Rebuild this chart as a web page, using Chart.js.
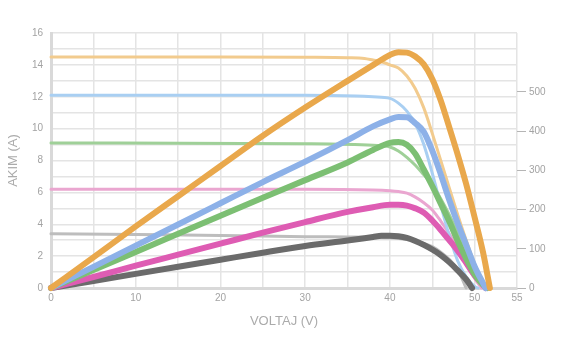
<!DOCTYPE html>
<html><head><meta charset="utf-8">
<script src="https://cdn.jsdelivr.net/npm/chart.js@4/dist/chart.umd.min.js"></script>
<style>html,body{margin:0;padding:0;background:#fff}canvas{display:block}</style>
</head><body><canvas id="c" width="564" height="361"></canvas>
<script>
// Tick labels
const xTickLabels = [0, 10, 20, 30, 40, 50, 55];
const leftTickLabels = [0, 2, 4, 6, 8, 10, 12, 14, 16];
const rightTickLabels = [0, 100, 200, 300, 400, 500];

// Current (I-V) curves, thin lines: voltage (V) and current (A)
const orangeIV_V = [0, 10, 20, 30, 35, 37, 38, 39, 40, 41, 42, 43, 44, 45, 46, 47, 48, 49, 50, 51, 51.4];
const orangeIV_I = [14.5, 14.5, 14.5, 14.48, 14.45, 14.4, 14.3, 14.2, 14.0, 13.8, 13.3, 12.5, 11.3, 9.7, 8.0, 6.3, 4.6, 3.0, 1.5, 0.4, 0];
const blueIV_V = [0, 30, 36, 38, 40, 41, 42, 43, 44, 45, 46, 47, 48, 49, 50, 50.4];
const blueIV_I = [12.1, 12.1, 12.05, 12.0, 11.9, 11.6, 11.1, 10.3, 9.0, 7.2, 5.2, 3.3, 1.7, 0.7, 0.1, 0];
const greenIV_V = [0, 30, 38, 40, 41, 42, 43, 44, 45, 46, 47, 48, 49, 50, 51, 51.2];
const greenIV_I = [9.1, 9.05, 8.95, 8.85, 8.6, 8.2, 7.7, 7.1, 6.5, 5.6, 4.6, 3.5, 2.3, 1.1, 0.2, 0];
const pinkIV_V = [0, 30, 38, 40, 41, 42, 43, 44, 45, 46, 47, 48, 49, 50, 50.8];
const pinkIV_I = [6.2, 6.2, 6.15, 6.1, 6.05, 5.95, 5.7, 5.35, 4.9, 4.2, 3.4, 2.5, 1.5, 0.6, 0];
const grayIV_V = [0, 10, 20, 30, 35, 38, 40, 42, 43, 44, 45, 46, 47, 48, 48.5, 49];
const grayIV_I = [3.4, 3.35, 3.3, 3.22, 3.2, 3.18, 3.15, 3.05, 2.95, 2.8, 2.6, 2.25, 1.8, 1.15, 0.6, 0];

// Power (P-V) curves, thick lines: voltage (V) and power (W)
const orangeP_V = [0, 5, 10, 15, 20, 25, 30, 35, 38, 40, 41, 42, 43, 44, 45, 46, 47, 48, 49, 50, 51, 51.8];
const orangeP_W = [0, 78, 157, 234, 311, 388, 460, 528, 568, 594, 601, 600, 590, 570, 533, 478, 410, 340, 265, 180, 90, 0];
const blueP_V = [0, 5, 10, 15, 20, 25, 30, 35, 38, 40, 41, 42, 43, 44, 45, 46, 47, 48, 49, 50, 51, 51.3];
const blueP_W = [0, 54, 108, 162, 216, 270, 322, 377, 412, 430, 436, 435, 420, 398, 350, 290, 225, 165, 110, 55, 12, 0];
const greenP_V = [0, 5, 10, 15, 20, 25, 30, 35, 38, 40, 41, 42, 43, 44, 45, 46, 47, 48, 49, 50, 51, 51.5];
const greenP_W = [0, 46, 92, 138, 184, 230, 275, 320, 352, 370, 372, 365, 342, 302, 260, 215, 170, 120, 75, 35, 8, 0];
const pinkP_V = [0, 5, 10, 15, 20, 25, 30, 35, 38, 40, 41, 42, 43, 44, 45, 46, 47, 48, 49, 50, 51, 51.3];
const pinkP_W = [0, 28, 57, 85, 113, 141, 168, 194, 206, 212, 212, 210, 203, 192, 172, 148, 122, 95, 64, 32, 8, 0];
const grayP_V = [0, 5, 10, 15, 20, 25, 30, 35, 38, 39, 40, 41, 42, 43, 44, 45, 46, 47, 48, 49, 49.7];
const grayP_W = [0, 18, 36, 54, 72, 90, 107, 121, 130, 133, 133, 132, 128, 120, 110, 98, 84, 66, 45, 22, 0];

const pts = (xs, ys) => xs.map((x, i) => ({x: x, y: ys[i]}));

function thin(label, xs, ys, color) {
  return {label, data: pts(xs, ys), yAxisID: 'y', borderColor: color, borderWidth: 3,
    pointRadius: 0, cubicInterpolationMode: 'monotone', fill: false, order: 2, clip: false,
    borderCapStyle: 'round', borderJoinStyle: 'round'};
}
function thick(label, xs, ys, color) {
  return {label, data: pts(xs, ys), yAxisID: 'y1', borderColor: color, borderWidth: 6,
    pointRadius: 0, cubicInterpolationMode: 'monotone', fill: false, order: 1, clip: false,
    borderCapStyle: 'round', borderJoinStyle: 'round'};
}

const tickFont = {family: '"Liberation Sans", Arial, sans-serif', size: 10};
const titleFont = {family: '"Liberation Sans", Arial, sans-serif', size: 13};

new Chart(document.getElementById('c'), {
  type: 'line',
  data: {datasets: [
    thin('I 1', orangeIV_V, orangeIV_I, '#f2cb8e'),
    thin('I 2', blueIV_V, blueIV_I, '#a9cff2'),
    thin('I 3', greenIV_V, greenIV_I, '#9fd098'),
    thin('I 4', pinkIV_V, pinkIV_I, '#eaa6d0'),
    thin('I 5', grayIV_V, grayIV_I, '#bdbdbd'),
    thick('P 1', orangeP_V, orangeP_W, '#e9a84c'),
    thick('P 2', blueP_V, blueP_W, '#8db1e8'),
    thick('P 3', greenP_V, greenP_W, '#7cbf73'),
    thick('P 4', pinkP_V, pinkP_W, '#de5cb3'),
    thick('P 5', grayP_V, grayP_W, '#6b6b6b')
  ]},
  options: {
    responsive: false, animation: false, devicePixelRatio: 1,
    layout: {padding: {top: 33, bottom: 32, left: 0, right: 0}},
    plugins: {legend: {display: false}, tooltip: {enabled: false}},
    scales: {
      x: {
        type: 'linear', min: 0, max: 55,
        afterBuildTicks: s => { const t = []; for (let v = 0; v <= 55; v += 5) t.push({value: v}); s.ticks = t; },
        afterFit: s => { s.height = 41; },
        grid: {color: '#e4e4e4', lineWidth: 1.5, drawTicks: false},
        border: {color: '#d9d9d9', width: 3},
        ticks: {padding: 4, color: '#a3a3a3', font: tickFont, maxRotation: 0, autoSkip: false,
          callback: v => xTickLabels.includes(v) ? String(v) : ''},
        title: {display: true, text: 'VOLTAJ (V)', color: '#ababab', font: titleFont, padding: 0}
      },
      y: {
        type: 'linear', position: 'left', min: 0, max: 16,
        afterBuildTicks: s => { const t = []; for (let v = 0; v <= 16; v += 1) t.push({value: v}); s.ticks = t; },
        afterFit: s => { s.width = 51; },
        grid: {color: '#e4e4e4', lineWidth: 1.5, drawTicks: false},
        border: {color: '#d9d9d9', width: 3},
        ticks: {padding: 8, color: '#a3a3a3', font: tickFont, autoSkip: false,
          callback: v => leftTickLabels.includes(v) ? String(v) : ''},
        title: {display: true, text: 'AKIM (A)', color: '#ababab', font: titleFont, padding: {top: 6, bottom: 0}}
      },
      y1: {
        type: 'linear', position: 'right', min: 0, max: 650,
        afterBuildTicks: s => { s.ticks = rightTickLabels.map(v => ({value: v})); },
        afterFit: s => { s.width = 47; },
        grid: {drawOnChartArea: false, drawTicks: true, tickLength: 9, tickColor: '#b5b5b5', tickWidth: 1},
        border: {display: false},
        ticks: {padding: 3, color: '#a3a3a3', font: tickFont, autoSkip: false,
          callback: v => String(v)}
      }
    }
  }
});
</script>
</body></html>
